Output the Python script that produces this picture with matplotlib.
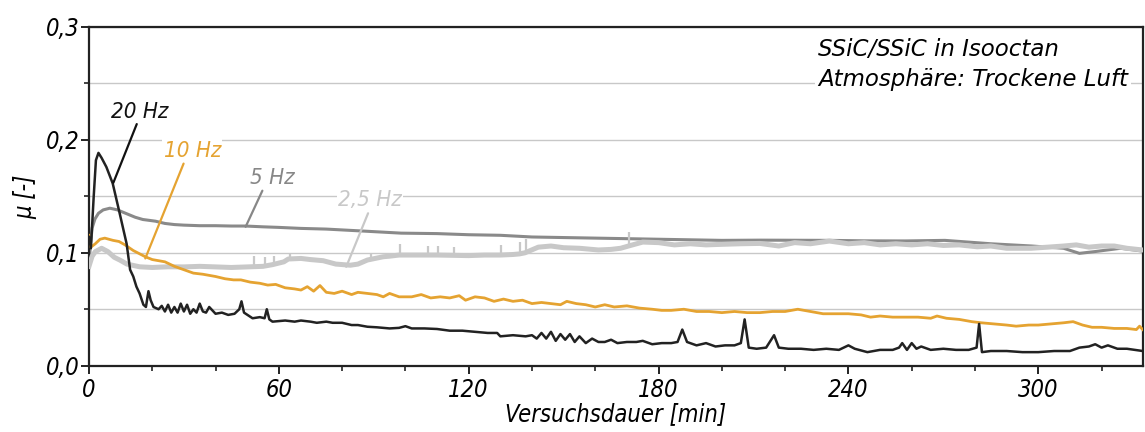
import matplotlib
matplotlib.use("Agg")
import matplotlib.pyplot as plt
from matplotlib.ticker import MultipleLocator, FuncFormatter

# 20 Hz (black)
t_20 = [0, 0.6, 1.5, 2.2, 3, 4, 5.5, 7.5, 9.7, 11.9, 13, 14, 15, 16, 17.2, 18, 18.8, 19.5,
        20.4, 22, 23, 24, 25, 26, 27, 28, 29, 30, 31, 32, 33, 34, 35, 36, 37, 38, 40, 42,
        44, 46, 47.5, 48.2, 49, 51.7, 54, 55.5, 56.2, 57, 58, 62, 65, 67, 70, 72, 75, 77,
        80, 83, 85, 88, 91, 95, 98, 100, 102, 106, 110, 114, 118, 122, 126, 129, 130, 134,
        138, 140, 141.5, 143, 144.5, 146, 147.5, 149, 150.5, 152, 153.5, 155, 157, 159,
        161, 163, 165, 167, 170, 173, 175, 178, 181, 184, 186, 187.5, 189, 192, 195, 198,
        201, 204, 206, 207.2, 208.5, 211, 214, 216.5, 218, 221, 225, 229, 233, 237, 240,
        242, 246, 250, 254, 256, 257, 258.5, 260, 261.5, 263, 266, 270, 274, 278, 280.5,
        281.3, 282.2, 285, 290, 295, 300, 305, 310, 313, 316, 318, 320, 322, 325, 328, 333]
mu_20 = [0.114, 0.104, 0.15, 0.182, 0.1885, 0.184, 0.176, 0.1615, 0.135, 0.108, 0.085,
         0.079, 0.07, 0.064, 0.054, 0.052, 0.066, 0.058, 0.052, 0.05, 0.053, 0.048, 0.054,
         0.047, 0.052, 0.047, 0.055, 0.048, 0.054, 0.046, 0.05, 0.047, 0.055, 0.048, 0.047,
         0.052, 0.046, 0.047, 0.045, 0.046, 0.05, 0.057, 0.047, 0.042, 0.043, 0.042, 0.05,
         0.041, 0.039, 0.04, 0.039, 0.04, 0.039, 0.038, 0.039, 0.038, 0.038, 0.036, 0.036,
         0.0345, 0.034, 0.033, 0.0335, 0.035, 0.033, 0.033, 0.0325, 0.031, 0.031, 0.03,
         0.029, 0.029, 0.026, 0.027, 0.026, 0.027, 0.024, 0.029, 0.024, 0.03, 0.022, 0.028,
         0.023, 0.028, 0.021, 0.026, 0.02, 0.024, 0.021, 0.021, 0.023, 0.02, 0.021, 0.021,
         0.022, 0.019, 0.02, 0.02, 0.021, 0.032, 0.021, 0.018, 0.02, 0.017, 0.018, 0.018,
         0.02, 0.041, 0.016, 0.015, 0.016, 0.027, 0.016, 0.015, 0.015, 0.014, 0.015, 0.014,
         0.018, 0.015, 0.012, 0.014, 0.014, 0.016, 0.02, 0.014, 0.02, 0.015, 0.017, 0.014,
         0.015, 0.014, 0.014, 0.016, 0.037, 0.012, 0.013, 0.013, 0.012, 0.012, 0.013,
         0.013, 0.016, 0.017, 0.019, 0.016, 0.018, 0.015, 0.015, 0.013]

# 10 Hz (orange)
t_10 = [0, 0.6, 2, 3.5, 5, 7.6, 9.5, 11.4, 14, 17.8, 20, 24, 27, 30, 33, 36, 40, 43, 45.7,
        48, 51, 54, 56.5, 59, 62, 65, 67, 69, 71, 73, 75, 77.5, 80, 83, 85, 88, 91, 93, 95,
        98, 102, 105, 108, 111, 114, 117, 119, 122, 125, 128, 131, 134, 137, 140, 143, 146,
        149, 151, 154, 157, 160, 163, 166, 170, 174, 178, 181, 184, 188, 192, 196, 200, 204,
        208, 212, 216, 220, 224, 228, 232, 236, 240, 244, 247, 250, 254, 258, 262, 266, 268,
        271, 275, 279, 282, 286, 290, 293, 297, 300, 304, 308, 311, 314, 317, 320, 324, 328,
        331, 332, 333]
mu_10 = [0.1155, 0.105, 0.108, 0.112, 0.113, 0.111, 0.11, 0.107, 0.102, 0.0965, 0.094,
         0.092, 0.088, 0.085, 0.082, 0.081, 0.079, 0.077, 0.076, 0.076, 0.074, 0.073, 0.0714,
         0.072, 0.069, 0.068, 0.067, 0.07, 0.066, 0.071, 0.065, 0.064, 0.066, 0.063, 0.065,
         0.064, 0.063, 0.061, 0.064, 0.061, 0.061, 0.063, 0.06, 0.061, 0.06, 0.062, 0.058,
         0.061, 0.06, 0.057, 0.059, 0.057, 0.058, 0.055, 0.056, 0.055, 0.054, 0.057, 0.055,
         0.054, 0.052, 0.054, 0.052, 0.053, 0.051, 0.05, 0.049, 0.049, 0.05, 0.048, 0.048,
         0.047, 0.048, 0.047, 0.047, 0.048, 0.048, 0.05, 0.048, 0.046, 0.046, 0.046, 0.045,
         0.043, 0.044, 0.043, 0.043, 0.043, 0.042, 0.044, 0.042, 0.041, 0.039, 0.038, 0.037,
         0.036, 0.035, 0.036, 0.036, 0.037, 0.038, 0.039, 0.036, 0.034, 0.034, 0.033, 0.033,
         0.032, 0.035, 0.032]

# 5 Hz (dark grey)
t_5 = [0, 0.5, 1, 1.9, 3, 4.5, 6.6, 9, 12, 14.6, 17, 21, 24, 27, 30, 35, 40, 45, 49.5, 55,
       60, 67, 75, 85, 98.7, 110, 120, 130, 140, 150, 160, 170, 180, 190, 200, 212, 234,
       245, 258, 270.5, 285, 298, 308, 313, 317.7, 326, 333]
mu_5 = [0.09, 0.108, 0.122, 0.13, 0.135, 0.138, 0.1395, 0.138, 0.1345, 0.1315, 0.1295,
        0.128, 0.126, 0.125, 0.1245, 0.124, 0.124, 0.1237, 0.1237, 0.123, 0.1225, 0.1216,
        0.121, 0.1195, 0.1174, 0.117, 0.116, 0.1155, 0.114, 0.1135, 0.113, 0.1125, 0.112,
        0.1115, 0.111, 0.1112, 0.111, 0.1106, 0.1105, 0.111, 0.108, 0.106, 0.104, 0.0995,
        0.101, 0.104, 0.1015]

# 2,5 Hz (light grey), smooth band
t_25 = [0, 1, 2, 4, 6, 8, 9.8, 12, 16, 20, 25, 30, 35, 40, 45, 51, 55, 58, 61.6, 63, 67,
        70, 74, 78, 82.6, 85, 88, 93, 95, 98, 102, 110, 120, 125, 130, 134, 136, 137.8, 142,
        146, 150, 155, 161, 165, 168, 170.5, 175, 180, 185, 190, 195, 200, 206, 212, 218,
        223, 228, 234, 240, 245, 250, 255, 260, 265, 270, 275, 280.7, 285, 290, 297.7, 303,
        308, 312, 316, 320, 324, 328, 333]
mu_25 = [0.088, 0.097, 0.101, 0.104, 0.101, 0.096, 0.0935, 0.09, 0.0876, 0.087, 0.0876,
         0.0875, 0.088, 0.0875, 0.087, 0.0876, 0.088, 0.0895, 0.092, 0.0945, 0.095, 0.094,
         0.093, 0.09, 0.089, 0.09, 0.0936, 0.0965, 0.097, 0.098, 0.098, 0.098, 0.0975, 0.098,
         0.098, 0.0985, 0.099, 0.1, 0.105, 0.106, 0.1045, 0.104, 0.1025, 0.103, 0.104,
         0.106, 0.1095, 0.109, 0.107, 0.108, 0.107, 0.1075, 0.108, 0.1083, 0.106, 0.109,
         0.108, 0.1104, 0.108, 0.109, 0.107, 0.108, 0.107, 0.108, 0.1065, 0.107, 0.1053,
         0.106, 0.104, 0.104, 0.105, 0.106, 0.107, 0.105, 0.106, 0.106, 0.104, 0.1025]
# thin upward spikes on the 2,5 Hz trace
spike_t = [52, 55.5, 58.5, 63.5, 89, 95, 98.3, 107.1, 110.3, 115.3, 130.3, 136.3, 138.1, 170.7]
spike_base = [0.088, 0.088, 0.09, 0.094, 0.094, 0.097, 0.098, 0.098, 0.098, 0.098, 0.098,
              0.099, 0.1, 0.106]
spike_top = [0.097, 0.096, 0.097, 0.1, 0.1, 0.1, 0.108, 0.106, 0.106, 0.105, 0.107, 0.11,
             0.112, 0.118]

# label text, label position, leader start, leader end
labels = ["20 Hz", "10 Hz", "5 Hz", "2,5 Hz"]
label_pos = [(15.9, 0.225), (32.7, 0.1904), (58, 0.1666), (88.9, 0.1466)]
leader_from = [(15.1, 0.214), (29.9, 0.179), (54.8, 0.155), (88.2, 0.135)]
leader_to = [(7.7, 0.162), (17.8, 0.095), (49.5, 0.123), (81.3, 0.0876)]
label_colors = ["#111111", "#e5a331", "#878787", "#c8c8c8"]

font = dict(family="DejaVu Sans", style="italic", stretch="condensed")

fig = plt.figure(figsize=(11.45, 4.32), dpi=100)
ax = fig.add_axes([0.0777, 0.1535, 0.9203, 0.784])

ax.plot(t_5, mu_5, color="#8a8a8a", lw=2.2, zorder=2)
ax.plot(t_25, mu_25, color="#c8c8c8", lw=3.6, zorder=3)
ax.vlines(spike_t, spike_base, spike_top, color="#c8c8c8", lw=1.6, zorder=3)
ax.plot(t_10, mu_10, color="#e5a331", lw=2.0, zorder=4)
ax.plot(t_20, mu_20, color="#222222", lw=1.8, zorder=5)

for txt, pos, p0, p1, c in zip(labels, label_pos, leader_from, leader_to, label_colors):
    ax.annotate("", xy=p1, xytext=p0,
                arrowprops=dict(arrowstyle="-", color=c, lw=1.6, shrinkA=0, shrinkB=0),
                zorder=6)
    ax.text(pos[0], pos[1], txt, color=c, fontsize=16, ha="center", va="center",
            bbox=dict(facecolor="white", edgecolor="none", pad=1), zorder=6, **font)

box_font = dict(family="DejaVu Sans", style="italic")
ax.text(0.6917, 0.935, "SSiC/SSiC in Isooctan", transform=ax.transAxes, fontsize=16.5,
        ha="left", va="center", bbox=dict(facecolor="white", edgecolor="none", pad=2),
        zorder=7, **box_font)
ax.text(0.6917, 0.845, "Atmosphäre: Trockene Luft", transform=ax.transAxes, fontsize=16.5,
        ha="left", va="center", bbox=dict(facecolor="white", edgecolor="none", pad=2),
        zorder=7, **box_font)

ax.set_xlim(0, 333)
ax.set_ylim(0, 0.3)
ax.xaxis.set_major_locator(MultipleLocator(60))
ax.xaxis.set_minor_locator(MultipleLocator(20))
ax.yaxis.set_major_locator(MultipleLocator(0.1))
ax.yaxis.set_minor_locator(MultipleLocator(0.05))
ax.yaxis.set_major_formatter(FuncFormatter(lambda v, p: f"{v:.1f}".replace(".", ",")))
ax.grid(True, axis="y", which="both", color="#c8c8c8", lw=1.0, zorder=0)
ax.set_axisbelow(True)

for s in ax.spines.values():
    s.set_linewidth(1.6)
    s.set_color("#222222")
ax.tick_params(which="major", direction="out", length=6, width=1.4, color="#222222")
ax.tick_params(which="minor", direction="out", length=3.5, width=1.2, color="#222222")
ax.tick_params(axis="both", labelsize=17)
ax.tick_params(axis="y", pad=1)
ax.tick_params(axis="x", pad=3)
for lab in ax.get_xticklabels() + ax.get_yticklabels():
    lab.set_fontstyle("italic")
    lab.set_fontstretch("condensed")

ax.set_xlabel("Versuchsdauer [min]", fontsize=17, labelpad=0, **font)
ax.set_ylabel("µ [-]", fontsize=17, labelpad=6, **font)

fig.savefig("out.png", dpi=100)
